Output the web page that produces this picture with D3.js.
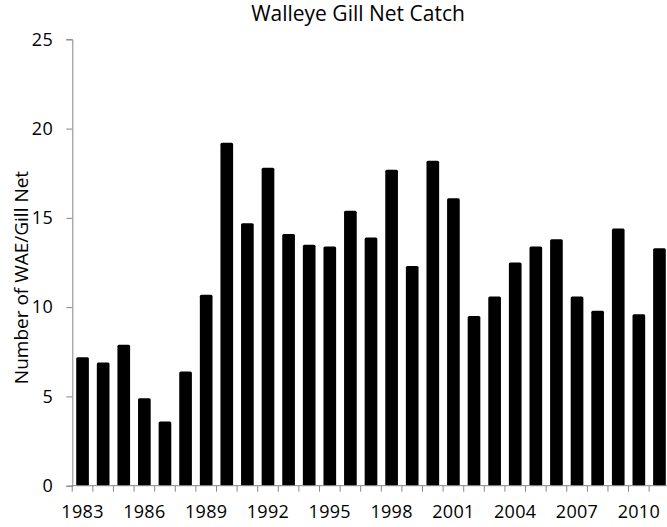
<!DOCTYPE html>
<html>
<head>
<meta charset="utf-8">
<script src="https://cdn.jsdelivr.net/npm/d3@7"></script>
<style>
  body { margin: 0; background: #fff; }
  text { font-family: "Open Sans", sans-serif; fill: #000; }
</style>
</head>
<body>
<div id="chart"></div>
<script>
const years = d3.range(1983, 2012).map(String);
const catchPerNet = [7.2, 6.9, 7.9, 4.9, 3.6, 6.4, 10.7, 19.2, 14.7, 17.8, 14.1, 13.5, 13.4,
  15.4, 13.9, 17.7, 12.3, 18.2, 16.1, 9.5, 10.6, 12.5, 13.4, 13.8, 10.6, 9.8, 14.4, 9.6, 13.3];
const yTicks = [0, 5, 10, 15, 20, 25];
const labelYears = years.filter((d, i) => i % 3 === 0);

const width = 667, height = 527;
const margin = { top: 39.3, left: 72.3, bottom: 527 - 485.7 };
const plotW = 29 * 20.6;

const svg = d3.select("#chart").append("svg")
  .attr("width", width)
  .attr("height", height);

const x = d3.scaleBand()
  .domain(years)
  .range([margin.left, margin.left + plotW])
  .paddingInner(0.385)
  .paddingOuter(0.19);

const y = d3.scaleLinear()
  .domain([0, 25])
  .range([height - margin.bottom, margin.top]);

// bars
svg.selectAll(".bar")
  .data(years)
  .join("rect")
  .attr("class", "bar")
  .attr("x", d => x(d))
  .attr("y", (d, i) => y(catchPerNet[i]))
  .attr("width", x.bandwidth())
  .attr("height", (d, i) => y(0) - y(catchPerNet[i]))
  .attr("rx", 1.5)
  .attr("fill", "#000");

// y axis
const yAxis = svg.append("g")
  .attr("transform", `translate(${margin.left},0)`)
  .call(d3.axisLeft(y).tickValues(yTicks).tickSize(6).tickPadding(13));
yAxis.selectAll("path, line").attr("stroke", "#868686");
yAxis.selectAll("text").style("font-size", "18px").style("letter-spacing", "0.5px");

// x axis: ticks between categories
const xAxis = svg.append("g")
  .attr("transform", `translate(0,${y(0)})`);
xAxis.append("line")
  .attr("x1", margin.left).attr("x2", margin.left + plotW)
  .attr("stroke", "#868686");
xAxis.selectAll(".tick")
  .data(years)
  .join("line")
  .attr("class", "tick")
  .attr("x1", d => x(d) - x.step() * x.paddingInner() / 2)
  .attr("x2", d => x(d) - x.step() * x.paddingInner() / 2)
  .attr("y1", 0).attr("y2", 6)
  .attr("stroke", "#868686");
xAxis.selectAll(".lbl")
  .data(labelYears)
  .join("text")
  .attr("class", "lbl")
  .attr("x", d => x(d) + x.bandwidth() / 2)
  .attr("y", 32)
  .attr("text-anchor", "middle")
  .style("font-size", "18px")
  .style("letter-spacing", "0.3px")
  .text(d => d);

// title
svg.append("text")
  .attr("x", 358)
  .attr("y", 21)
  .attr("text-anchor", "middle")
  .style("font-size", "21px")
  .text("Walleye Gill Net Catch");

// y label
svg.append("text")
  .attr("transform", `translate(28,${(y(0) + y(25)) / 2 + 15}) rotate(-90)`)
  .attr("text-anchor", "middle")
  .style("font-size", "19px")
  .text("Number of WAE/Gill Net");
</script>
</body>
</html>
